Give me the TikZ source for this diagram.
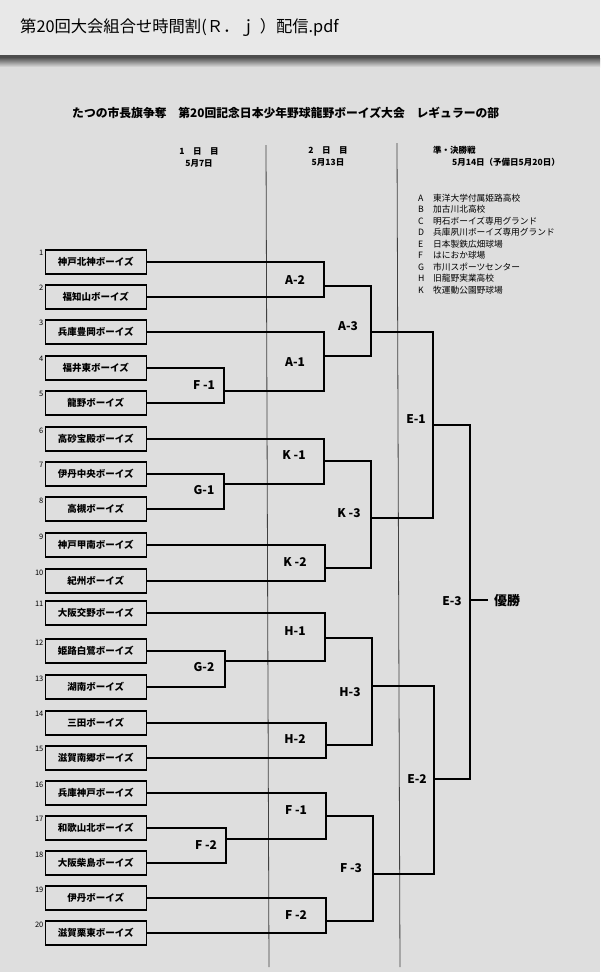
\documentclass[tikz,border=0pt]{standalone}
\usepackage{fontspec}
\setmainfont{Noto Sans CJK JP}
\begin{document}
\begin{tikzpicture}[x=1pt,y=-1pt,
  team/.style={draw=black, line width=1.3pt, minimum width=101pt, minimum height=24pt, inner sep=0pt, font=\bfseries\fontsize{9.5}{10}\selectfont},
  num/.style={anchor=north east, inner sep=0pt, font=\fontsize{7.5}{8}\selectfont},
  lab/.style={font=\bfseries\fontsize{12}{13}\selectfont, inner sep=0pt},
  wire/.style={line width=1.2pt, black, line join=miter},
  colline/.style={line width=0.8pt, black!75},
  dayhead/.style={font=\bfseries\fontsize{8.5}{9}\selectfont, inner sep=0pt},
  legend/.style={font=\fontsize{8.7}{9}\selectfont, inner sep=0pt, anchor=west}]
\definecolor{bg}{HTML}{DEDEDE}
\definecolor{hdrbg}{HTML}{E8E8E8}
% background and header bar
\useasboundingbox (0,0) rectangle (600,972);
\fill[bg] (0,0) rectangle (600,972);
\fill[hdrbg] (0,0) rectangle (600,55);
\fill[black!70] (0,55) rectangle (600,58);
\shade[top color=black!65, bottom color=bg] (0,58) rectangle (600,67);
\node[anchor=west, inner sep=0pt, font=\fontsize{16.3}{17}\selectfont] (hdr) at (20,28) {第20回大会組合せ時間割(Ｒ．ｊ\hspace{0.25em}）配信.pdf};
% titles
\node[anchor=west, inner sep=0pt, font=\bfseries\fontsize{11.8}{12}\selectfont] (title) at (72,113) {たつの市長旗争奪　第20回記念日本少年野球龍野ボーイズ大会　レギュラーの部};
\node[dayhead] (d1a) at (199,151) {1　日　目};
\node[dayhead] (d1b) at (199,163) {5月7日};
\node[dayhead] (d2a) at (328,150) {2　日　目};
\node[dayhead] (d2b) at (328,162) {5月13日};
\node[dayhead, anchor=west] (d3a) at (433,150) {準・決勝戦};
\node[dayhead, anchor=west] (d3b) at (452,162) {5月14日（予備日5月20日）};
% column separators
\coordinate (c1t) at (266,145); \coordinate (c1b) at (269,967);
\coordinate (c2t) at (397,143); \coordinate (c2b) at (400,967);
\draw[colline] (c1t) -- (c1b);
\draw[colline] (c2t) -- (c2b);
% legend
\foreach \k/\y/\t in {A/198/東洋大学付属姫路高校, B/209.5/加古川北高校, C/221/明石ボーイズ専用グランド, D/232.5/兵庫夙川ボーイズ専用グランド, E/244/日本製鉄広畑球場, F/255.5/はにおか球場, G/267/市川スポーツセンター, H/278.5/旧龍野実業高校, K/290/牧運動公園野球場}{
  \node[legend] (lk\k) at (418,\y) {\k};
  \node[legend] (lt\k) at (433,\y) {\t};
}
% teams
\foreach \i/\y/\name in {1/262/神戸北神ボーイズ, 2/297/福知山ボーイズ, 3/332/兵庫豊岡ボーイズ, 4/368/福井東ボーイズ, 5/403/龍野ボーイズ, 6/439/高砂宝殿ボーイズ, 7/474/伊丹中央ボーイズ, 8/509/高槻ボーイズ, 9/545/神戸甲南ボーイズ, 10/581/紀州ボーイズ, 11/613/大阪交野ボーイズ, 12/651/姫路白鷺ボーイズ, 13/687/湖南ボーイズ, 14/723/三田ボーイズ, 15/758/滋賀南郷ボーイズ, 16/793/兵庫神戸ボーイズ, 17/828/和歌山北ボーイズ, 18/863/大阪柴島ボーイズ, 19/898/伊丹ボーイズ, 20/933/滋賀栗東ボーイズ}{
  \node[team] (t\i) at (95.75,\y) {\name};
  \node[num] (n\i) at ([xshift=-1pt,yshift=-1pt]t\i.north west) {\i};
}
% match junctions
\coordinate (F1a) at (224,391);
\coordinate (G1) at (224,484);
\coordinate (G2) at (225,661);
\coordinate (F2a) at (226,839);
\coordinate (A2) at (324,286);
\coordinate (A1) at (324,356);
\coordinate (K1) at (324,461);
\coordinate (K2) at (325,568);
\coordinate (H1) at (325,638);
\coordinate (H2) at (326,745);
\coordinate (F1b) at (326,816);
\coordinate (F2b) at (326,921);
\coordinate (A3) at (371,332);
\coordinate (K3) at (371,518);
\coordinate (H3) at (372,686);
\coordinate (F3) at (373,874);
\coordinate (E1) at (433,425);
\coordinate (E2) at (434,779);
\coordinate (E3) at (470,600);
\coordinate (wend) at (488,600);
% first day
\draw[wire] (t4.east) -| (F1a); \draw[wire] (t5.east) -| (F1a);
\draw[wire] (t7.east) -| (G1); \draw[wire] (t8.east) -| (G1);
\draw[wire] (t12.east) -| (G2); \draw[wire] (t13.east) -| (G2);
\draw[wire] (t17.east) -| (F2a); \draw[wire] (t18.east) -| (F2a);
% second day
\draw[wire] (t1.east) -| (A2); \draw[wire] (t2.east) -| (A2);
\draw[wire] (t3.east) -| (A1); \draw[wire] (F1a) -| (A1);
\draw[wire] (t6.east) -| (K1); \draw[wire] (G1) -| (K1);
\draw[wire] (t9.east) -| (K2); \draw[wire] (t10.east) -| (K2);
\draw[wire] (t11.east) -| (H1); \draw[wire] (G2) -| (H1);
\draw[wire] (t14.east) -| (H2); \draw[wire] (t15.east) -| (H2);
\draw[wire] (t16.east) -| (F1b); \draw[wire] (F2a) -| (F1b);
\draw[wire] (t19.east) -| (F2b); \draw[wire] (t20.east) -| (F2b);
\draw[wire] (A2) -| (A3); \draw[wire] (A1) -| (A3);
\draw[wire] (K1) -| (K3); \draw[wire] (K2) -| (K3);
\draw[wire] (H1) -| (H3); \draw[wire] (H2) -| (H3);
\draw[wire] (F1b) -| (F3); \draw[wire] (F2b) -| (F3);
% finals
\draw[wire] (A3) -| (E1); \draw[wire] (K3) -| (E1);
\draw[wire] (H3) -| (E2); \draw[wire] (F3) -| (E2);
\draw[wire] (E1) -| (E3); \draw[wire] (E2) -| (E3);
\draw[wire] (E3) -- (wend);
% labels
\node[lab] (lF1a) at (204,385) {F -1};
\node[lab] (lG1) at (204,490) {G-1};
\node[lab] (lG2) at (204,667) {G-2};
\node[lab] (lF2a) at (206,845) {F -2};
\node[lab] (lA2) at (295,280) {A-2};
\node[lab] (lA1) at (295,362) {A-1};
\node[lab] (lK1) at (294,455) {K -1};
\node[lab] (lK2) at (295,562) {K -2};
\node[lab] (lH1) at (295,631) {H-1};
\node[lab] (lH2) at (295,739) {H-2};
\node[lab] (lF1b) at (296,810) {F -1};
\node[lab] (lF2b) at (296,915) {F -2};
\node[lab] (lA3) at (348,326) {A-3};
\node[lab] (lK3) at (349,513) {K -3};
\node[lab] (lH3) at (350,692) {H-3};
\node[lab] (lF3) at (351,868) {F -3};
\node[lab] (lE1) at (416,419) {E-1};
\node[lab] (lE2) at (417,779) {E-2};
\node[lab] (lE3) at (452,601) {E-3};
\node[lab, anchor=west, font=\bfseries\fontsize{13}{14}\selectfont] (win) at (494,601) {優勝};
\end{tikzpicture}
\end{document}
